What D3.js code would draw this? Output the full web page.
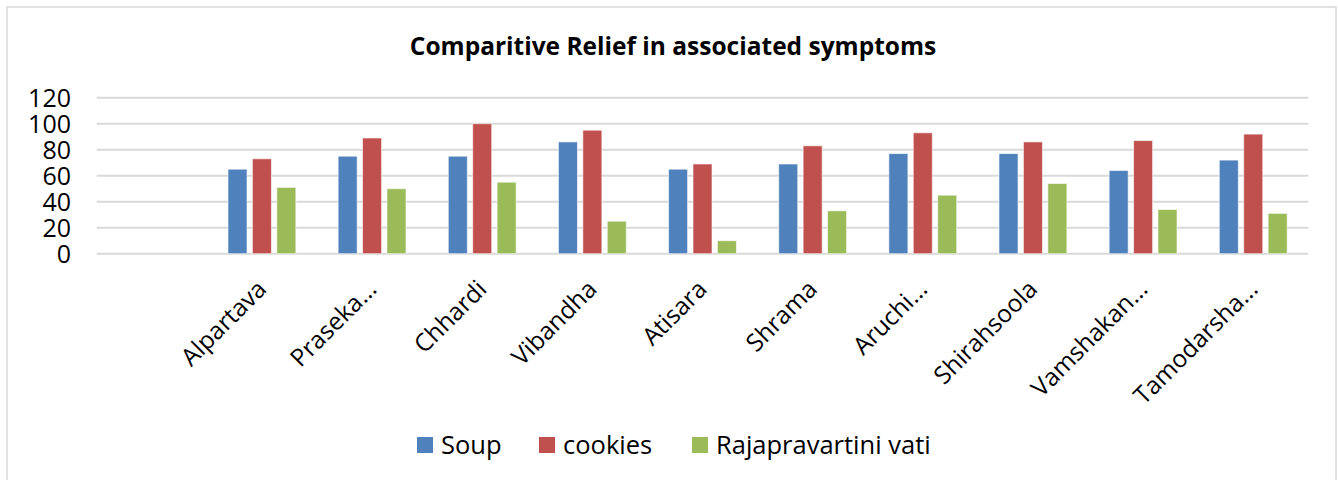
<!DOCTYPE html>
<html>
<head>
<meta charset="utf-8">
<script src="https://cdn.jsdelivr.net/npm/d3@7"></script>
<style>
html,body{margin:0;padding:0;background:#fff;}
svg{display:block;}
text{font-family:"Open Sans","Noto Sans",sans-serif;}
</style>
</head>
<body>
<svg id="chart" width="1338" height="480"></svg>
<script>
const categories = ["", "Alpartava", "Praseka...", "Chhardi", "Vibandha", "Atisara", "Shrama", "Aruchi...", "Shirahsoola", "Vamshakan...", "Tamodarsha..."];
const seriesNames = ["Soup", "cookies", "Rajapravartini vati"];
const soup    = [null, 65, 75, 75, 86, 65, 69, 77, 77, 64, 72];
const cookies = [null, 73, 89, 100, 95, 69, 83, 93, 86, 87, 92];
const vati    = [null, 51, 50, 55, 25, 10, 33, 45, 54, 34, 31];
const yTicks  = [0, 20, 40, 60, 80, 100, 120];
const colors  = ["#4F81BD", "#C0504D", "#9BBB59"];
const title   = "Comparitive Relief in associated symptoms";

const svg = d3.select("#chart");

// outer chart border
svg.append("rect").attr("x", 7).attr("y", 7).attr("width", 1329).attr("height", 490)
  .attr("fill", "none").attr("stroke", "#D9D9D9").attr("stroke-width", 1.5);

const pLeft = 96.7, pRight = 1308.3, pTop = 97.7, pBottom = 253.7;

const x0 = d3.scaleBand().domain(categories.map((c, i) => i)).range([pLeft, pRight])
  .paddingInner(0.335).paddingOuter(0.1675);
const x1 = d3.scaleBand().domain([0, 1, 2]).range([0, x0.bandwidth()])
  .paddingInner(0.22).paddingOuter(0.11);
const y = d3.scaleLinear().domain([0, 120]).range([pBottom, pTop]);

// gridlines
svg.append("g").selectAll("line").data(yTicks).join("line")
  .attr("x1", pLeft).attr("x2", pRight)
  .attr("y1", d => y(d)).attr("y2", d => y(d))
  .attr("stroke", "#D9D9D9").attr("stroke-width", 2);

// y axis labels
const yAxis = d3.axisLeft(y).tickValues(yTicks).tickSize(0).tickPadding(0);
const yg = svg.append("g").attr("transform", `translate(71,0)`).call(yAxis);
yg.select(".domain").remove();
yg.selectAll("text").attr("font-size", 25).attr("fill", "#000")
  .attr("font-family", "\"Open Sans\",sans-serif").attr("dy", "0.35em");

// bars
const seriesData = [soup, cookies, vati];
seriesData.forEach((vals, s) => {
  svg.append("g").selectAll("rect")
    .data(vals.map((v, i) => ({i, v})).filter(d => d.v !== null))
    .join("rect")
    .attr("x", d => x0(d.i) + x1(s))
    .attr("y", d => y(d.v))
    .attr("width", x1.bandwidth())
    .attr("height", d => y(0) - y(d.v))
    .attr("fill", colors[s])
    .attr("stroke", "#fff").attr("stroke-opacity", 0.6).attr("stroke-width", 1);
});

// x axis labels
const xAxis = d3.axisBottom(x0).tickSize(0).tickFormat(i => categories[i]);
const xg = svg.append("g").attr("transform", `translate(0,${pBottom})`).call(xAxis);
xg.select(".domain").remove();
xg.selectAll("text")
  .attr("font-size", 24.5).attr("fill", "#000")
  .attr("text-anchor", "end")
  .attr("font-family", "\"Open Sans\",sans-serif")
  .attr("y", 0).attr("dy", 0)
  .attr("transform", "translate(6,37) rotate(-45)");

// title
svg.append("text").attr("x", 673).attr("y", 55).attr("text-anchor", "middle")
  .attr("font-size", 24.5).attr("font-weight", "bold").attr("fill", "#000")
  .text(title);

// legend
const legendX = [417, 539, 692];
const lg = svg.append("g");
seriesNames.forEach((n, s) => {
  lg.append("rect").attr("x", legendX[s]).attr("y", 437).attr("width", 16).attr("height", 16)
    .attr("fill", colors[s]);
  lg.append("text").attr("x", legendX[s] + 24).attr("y", 454)
    .attr("font-size", 25.5).attr("fill", "#000").text(n);
});
</script>
</body>
</html>
